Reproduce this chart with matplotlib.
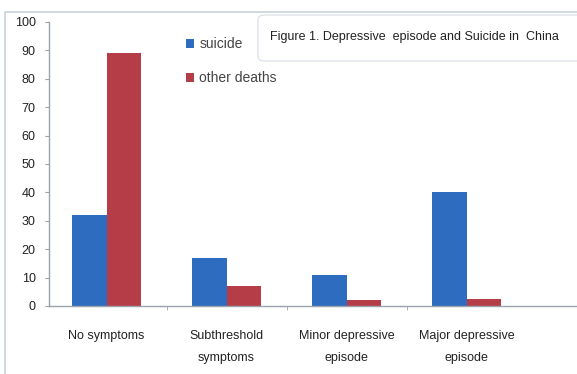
import matplotlib.pyplot as plt
from matplotlib.patches import FancyBboxPatch, Rectangle

categories = ["No symptoms", "Subthreshold\nsymptoms", "Minor depressive\nepisode", "Major depressive\nepisode"]
suicide = [32, 17, 11, 40]
other_deaths = [89, 7, 2, 2.5]
y_ticks = list(range(0, 101, 10))
title = "Figure 1. Depressive  episode and Suicide in  China"

blue = "#2d6cbf"
red = "#b53d48"
grey = "#9aa3ab"

plt.rcParams["font.family"] = ["Liberation Sans", "DejaVu Sans"]

fig = plt.figure(figsize=(5.77, 3.74), dpi=100)

# light outer frame of the chart area
frame = Rectangle((5 / 577, -0.1), 1.2, 1 - 12 / 374 + 0.1, transform=fig.transFigure,
                  fill=False, edgecolor="#c9d3dc", linewidth=1.2)
fig.add_artist(frame)

ax = fig.add_axes([49 / 577, 1 - 306 / 374, 528 / 577, 284 / 374])
x = list(range(len(categories)))
w = 0.285
ax.bar([i - w / 2 for i in x], suicide, width=w, color=blue, label="suicide")
ax.bar([i + w / 2 for i in x], other_deaths, width=w, color=red, label="other deaths")

ax.set_ylim(0, 100)
ax.set_xlim(-0.48, 3.92)
ax.set_yticks(y_ticks)
ax.set_xticks(x)
ax.set_xticklabels(categories, fontsize=9, color="#222222", linespacing=2.1)
ax.set_xticks([0.5, 1.5, 2.5], minor=True)
ax.tick_params(axis="x", which="major", length=0, pad=17)
ax.tick_params(axis="x", which="minor", length=3, color=grey)
ax.tick_params(axis="y", length=3, color=grey, labelsize=9, labelcolor="#222222", pad=6.5)
for side in ["top", "right"]:
    ax.spines[side].set_visible(False)
for side in ["left", "bottom"]:
    ax.spines[side].set_color(grey)
    ax.spines[side].set_linewidth(1.0)

leg = ax.legend(loc="upper left", bbox_to_anchor=(0.236, 0.99), frameon=False,
                fontsize=10, handlelength=0.6, handleheight=0.6, handletextpad=0.35,
                labelspacing=1.45, labelcolor="#444444")

# title box
box = FancyBboxPatch((258 / 577, 1 - 61 / 374), 330 / 577, 46 / 374,
                     boxstyle="round,pad=0,rounding_size=0.012", transform=fig.transFigure,
                     facecolor="white", edgecolor="#dde3ea", linewidth=1.0)
fig.add_artist(box)
fig.text(270 / 577, 1 - 37 / 374, title, fontsize=9, color="#222222", va="center", ha="left")

fig.savefig("out.png", dpi=100)
